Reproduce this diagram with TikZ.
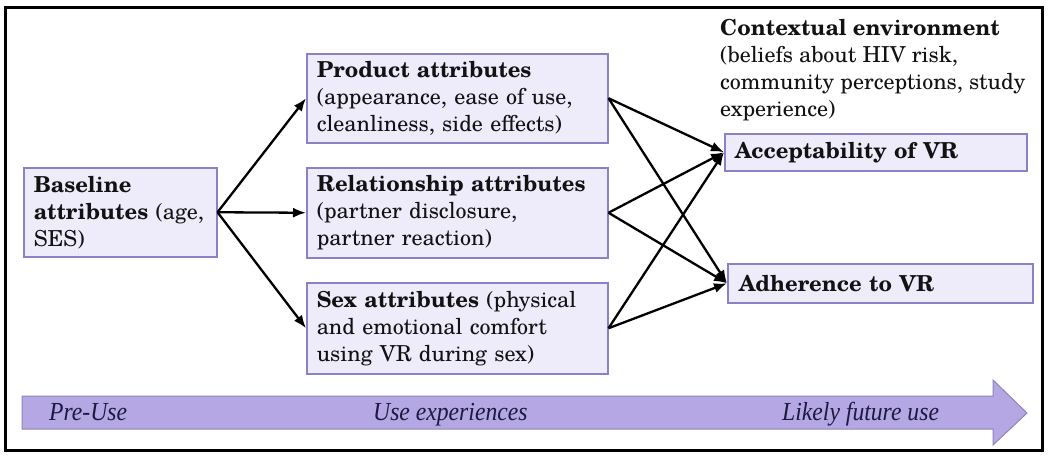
\documentclass[tikz,border=0pt]{standalone}
\usepackage{fontspec}
\usetikzlibrary{arrows.meta}
\setmainfont{TeX Gyre Schola}
\newfontfamily\arrowfont[FakeStretch=0.91]{Liberation Serif}
\definecolor{boxfill}{HTML}{EEEBFA}
\definecolor{boxline}{HTML}{8A82C6}
\definecolor{arrfill}{HTML}{B4A7E3}
\definecolor{arrline}{HTML}{8E86B8}
\definecolor{txt}{HTML}{121212}
\definecolor{arrtxt}{HTML}{1C1A40}
\begin{document}
\begin{tikzpicture}[x=1pt,y=-1pt,
  box/.style={draw=boxline, fill=boxfill, line width=1.5pt, anchor=north west,
    align=left, inner xsep=10pt, inner ysep=2pt, text=txt, font=\fontsize{22}{27}\selectfont},
  conn/.style={-{Latex[length=13pt,width=10pt]}, line width=2.3pt, black},
  lbl/.style={font=\fontsize{22}{27}\selectfont, text=txt, align=left, anchor=north west, inner sep=0pt},
  arrlbl/.style={font=\arrowfont\itshape\fontsize{26}{28}\selectfont, text=arrtxt, anchor=base west, inner sep=0pt}]
\useasboundingbox (0,0) rectangle (1050,458);
\draw[line width=3pt] (5,7) rectangle (1042,450);
% big timeline arrow
\draw[fill=arrfill, draw=arrline, line width=1pt] (22,396) -- (993,396) -- (993,380) -- (1027,413) -- (993,445) -- (993,429) -- (22,429) -- cycle;
\node[arrlbl] (pre) at (49,420) {Pre-Use};
\node[arrlbl] (usexp) at (373,420) {Use experiences};
\node[arrlbl] (future) at (782,420) {Likely future use};
% boxes
\node[box, text width=173pt, minimum height=89pt] (base) at (23,167)
  {\textbf{Baseline}\\\textbf{attributes} (age,\\SES)};
\node[box, text width=281pt, minimum height=89pt] (prod) at (306,53)
  {\textbf{Product attributes}\\(appearance, ease of use,\\cleanliness, side effects)};
\node[box, text width=281pt, minimum height=90pt] (rel) at (306,167)
  {\textbf{Relationship attributes}\\(partner disclosure,\\partner reaction)};
\node[box, text width=281pt, minimum height=91pt] (sex) at (306,282)
  {\textbf{Sex attributes} (physical\\and emotional comfort\\using VR during sex)};
\node[box, text width=282pt, minimum height=37pt] (acc) at (724,133)
  {\textbf{Acceptability of VR}};
\node[box, text width=283pt, minimum height=39pt, inner xsep=11pt] (adh) at (727,263)
  {\textbf{Adherence to VR}};
\node[lbl] (ctx) at (720,19)
  {\textbf{Contextual environment}\\(beliefs about HIV risk,\\community perceptions, study\\experience)};
% connectors
\draw[conn] (base.east) -- (prod.west);
\draw[conn] (base.east) -- (rel.west);
\draw[conn] (base.east) -- (sex.west);
\foreach \s in {prod,rel,sex}{
  \draw[conn] (\s.east) -- (acc.west);
  \draw[conn] (\s.east) -- (adh.west);
}
\end{tikzpicture}
\end{document}
